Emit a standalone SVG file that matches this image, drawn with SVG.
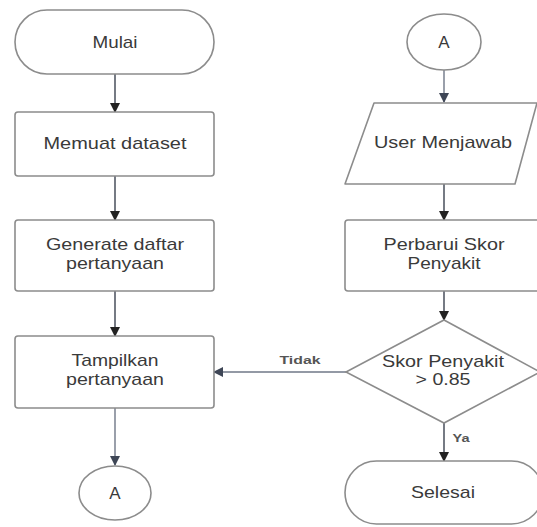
<svg xmlns="http://www.w3.org/2000/svg" width="537" height="527" viewBox="0 0 537 527">
<style>
.shape{fill:#fff;stroke:#8c8c8c;stroke-width:1.6}
.lbl{font-family:"Liberation Sans",Arial,sans-serif;font-size:17px;fill:#3a3a3a;text-anchor:middle}
.small{font-family:"Liberation Sans",Arial,sans-serif;font-size:11px;font-weight:bold;fill:#555;text-anchor:middle}
.conn{stroke:#3c4250;stroke-width:1.4;fill:none}
.conn2{stroke:#6f7787;stroke-width:1.4;fill:none}
</style>
<defs>
<marker id="arr" markerWidth="10" markerHeight="10" refX="9" refY="5" orient="auto" markerUnits="userSpaceOnUse">
<path d="M0,0 L10,5 L0,10 Z" fill="#222"/>
</marker>
<marker id="arr2" markerWidth="10" markerHeight="10" refX="9" refY="5" orient="auto" markerUnits="userSpaceOnUse">
<path d="M0,0 L10,5 L0,10 Z" fill="#3e4656"/>
</marker>
</defs>
<rect width="537" height="527" fill="#fff"/>
<g id="connectors">
<line class="conn" x1="115" y1="74" x2="115" y2="112" marker-end="url(#arr)"/>
<line class="conn" x1="115" y1="176" x2="115" y2="220" marker-end="url(#arr)"/>
<line class="conn" x1="115" y1="291" x2="115" y2="336" marker-end="url(#arr)"/>
<line class="conn2" x1="115" y1="408" x2="115" y2="465" marker-end="url(#arr2)"/>
<line class="conn2" x1="444" y1="70" x2="444" y2="102" marker-end="url(#arr2)"/>
<line class="conn" x1="444" y1="184" x2="444" y2="220" marker-end="url(#arr)"/>
<line class="conn" x1="444" y1="291" x2="444" y2="320" marker-end="url(#arr)"/>
<line class="conn2" x1="346" y1="372" x2="214" y2="372" marker-end="url(#arr2)"/>
<line class="conn" x1="444" y1="423" x2="444" y2="461" marker-end="url(#arr)"/>
<text class="small" x="300" y="364" textLength="41" lengthAdjust="spacingAndGlyphs">Tidak</text>
<text class="small" x="461" y="442" textLength="17" lengthAdjust="spacingAndGlyphs">Ya</text>
</g>
<g id="mulai">
<rect class="shape" x="15" y="10" width="199" height="64" rx="32"/>
<text class="lbl" x="115" y="48" textLength="45" lengthAdjust="spacingAndGlyphs">Mulai</text>
</g>
<g id="memuat">
<rect class="shape" x="15" y="112" width="199" height="64" rx="3"/>
<text class="lbl" x="115" y="149" textLength="143" lengthAdjust="spacingAndGlyphs">Memuat dataset</text>
</g>
<g id="generate">
<rect class="shape" x="15" y="220" width="199" height="71" rx="3"/>
<text class="lbl" x="115" y="250" textLength="138" lengthAdjust="spacingAndGlyphs">Generate daftar</text>
<text class="lbl" x="115" y="269" textLength="98" lengthAdjust="spacingAndGlyphs">pertanyaan</text>
</g>
<g id="tampilkan">
<rect class="shape" x="15" y="336" width="199" height="72" rx="3"/>
<text class="lbl" x="115" y="366" textLength="87" lengthAdjust="spacingAndGlyphs">Tampilkan</text>
<text class="lbl" x="115" y="385" textLength="98" lengthAdjust="spacingAndGlyphs">pertanyaan</text>
</g>
<g id="a-bottom">
<ellipse class="shape" cx="115" cy="493" rx="36" ry="27"/>
<text class="lbl" x="115" y="499">A</text>
</g>
<g id="a-top">
<ellipse class="shape" cx="444" cy="42" rx="37" ry="28"/>
<text class="lbl" x="444" y="48">A</text>
</g>
<g id="user-menjawab">
<path class="shape" d="M374,103 L537,103 L515,184 L345,184 Z" stroke-linejoin="round"/>
<text class="lbl" x="443" y="148" textLength="138" lengthAdjust="spacingAndGlyphs">User Menjawab</text>
</g>
<g id="perbarui">
<rect class="shape" x="345" y="220" width="200" height="71" rx="3"/>
<text class="lbl" x="444" y="250" textLength="121" lengthAdjust="spacingAndGlyphs">Perbarui Skor</text>
<text class="lbl" x="444" y="269" textLength="73" lengthAdjust="spacingAndGlyphs">Penyakit</text>
</g>
<g id="decision">
<path class="shape" d="M444,320 L540,372 L444,423 L346,372 Z"/>
<text class="lbl" x="443" y="367" textLength="122" lengthAdjust="spacingAndGlyphs">Skor Penyakit</text>
<text class="lbl" x="443" y="385" textLength="55" lengthAdjust="spacingAndGlyphs">&gt; 0.85</text>
</g>
<g id="selesai">
<rect class="shape" x="345" y="461" width="198" height="63" rx="31.5"/>
<text class="lbl" x="443" y="498" textLength="64" lengthAdjust="spacingAndGlyphs">Selesai</text>
</g>
</svg>
